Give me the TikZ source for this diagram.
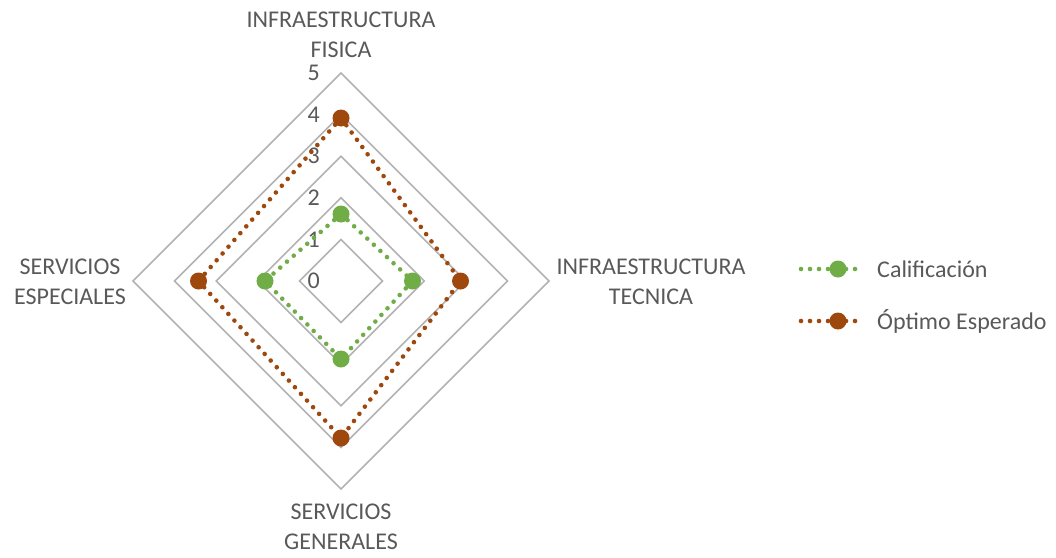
\documentclass[tikz,border=0pt]{standalone}
\usepackage{fontspec}
\setmainfont{Carlito}
\definecolor{gridc}{RGB}{178,178,178}
\definecolor{txtc}{RGB}{89,89,89}
\definecolor{cgreen}{RGB}{112,173,71}
\definecolor{corange}{RGB}{158,72,14}
\begin{document}
\begin{tikzpicture}[x=1pt,y=-1pt,
  lbl/.style={text=txtc,font=\fontsize{24}{29.5}\selectfont,align=center,inner sep=0pt},
  ring/.style={draw=gridc,line width=1.6pt},
  series/.style={line width=4.6pt,line cap=round,dash pattern=on 0pt off 9pt},
  dotmark/.style={circle,inner sep=0pt,minimum size=17pt,fill=#1},
]
\useasboundingbox (0,0) rectangle (1056,557);
% grid rings
\foreach \r in {1,...,5}{
  \draw[ring] (341,{281-41.6*\r}) -- ({341+41.6*\r},281) -- (341,{281+41.6*\r}) -- ({341-41.6*\r},281) -- cycle;
}
% value labels
\foreach \v in {0,...,5}{
  \node[lbl,anchor=east] (v\v) at (320,{281-41.6*\v}) {\v};
}
% axis labels
\node[lbl] (ax1) at (341,35) {INFRAESTRUCTURA\\FISICA};
\node[lbl] (ax2) at (651,282) {INFRAESTRUCTURA\\TECNICA};
\node[lbl] (ax3) at (341,527) {SERVICIOS\\GENERALES};
\node[lbl] (ax4) at (70,282) {SERVICIOS\\ESPECIALES};
% data points
\coordinate (g1) at (341,214);
\coordinate (g2) at (412.5,281);
\coordinate (g3) at (341,359);
\coordinate (g4) at (265,281);
\coordinate (o1) at (341,118);
\coordinate (o2) at (460.5,281);
\coordinate (o3) at (341,438);
\coordinate (o4) at (198.5,281);
\draw[series,draw=cgreen] (g1) -- (g2) -- (g3) -- (g4) -- cycle;
\draw[series,draw=corange] (o1) -- (o2) -- (o3) -- (o4) -- cycle;
\foreach \p in {g1,g2,g3,g4}{\node[dotmark=cgreen] (m\p) at (\p) {};}
\foreach \p in {o1,o2,o3,o4}{\node[dotmark=corange] (m\p) at (\p) {};}
% legend
\coordinate (lga) at (801,269);
\coordinate (lgb) at (862,269);
\draw[series,draw=cgreen] (lga) -- (lgb);
\node[dotmark=cgreen] (lgm) at (838,269) {};
\node[lbl,anchor=west] (lgt) at (877,269) {Calificación};
\coordinate (lha) at (801,321);
\coordinate (lhb) at (862,321);
\draw[series,draw=corange] (lha) -- (lhb);
\node[dotmark=corange] (lhm) at (838,321) {};
\node[lbl,anchor=west] (lht) at (877,321) {Óptimo Esperado};
\end{tikzpicture}
\end{document}
